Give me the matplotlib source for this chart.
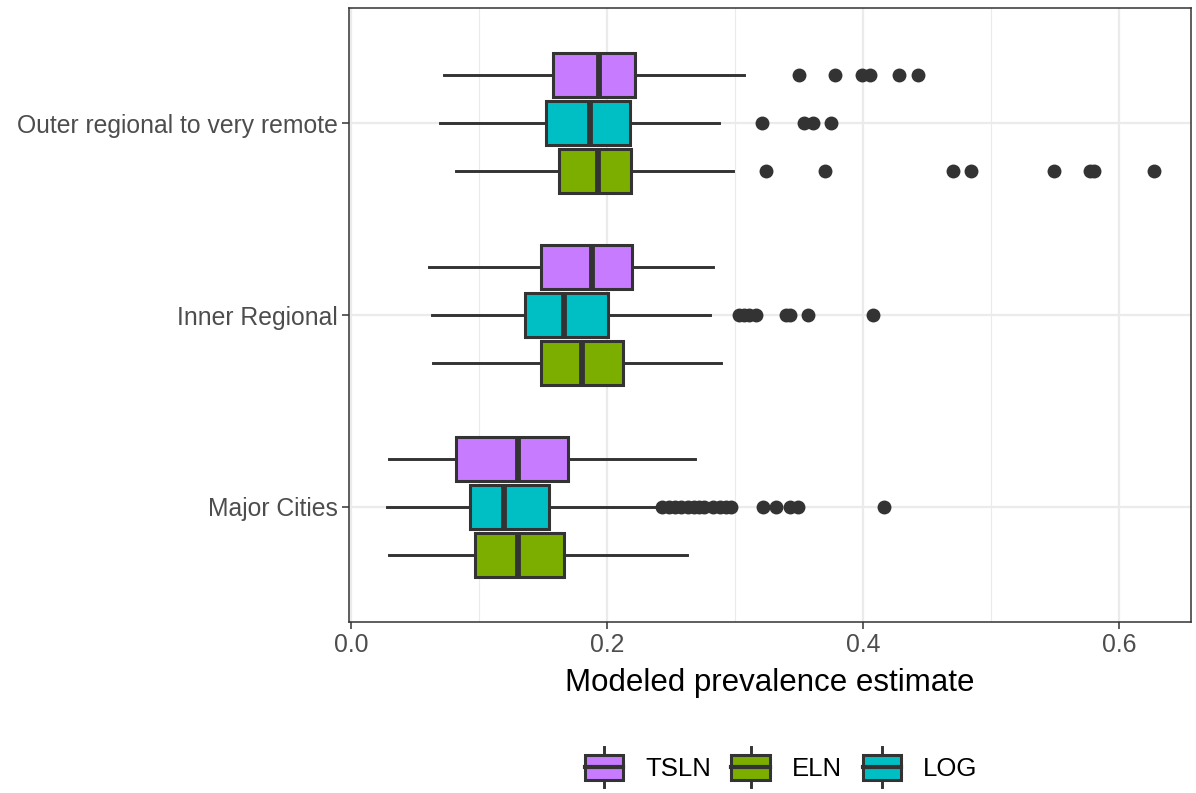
import numpy as np
import matplotlib
matplotlib.use("Agg")
import matplotlib.pyplot as plt
from matplotlib.patches import Rectangle
from matplotlib.lines import Line2D
from matplotlib.legend_handler import HandlerBase

plt.rcParams['font.family'] = ['Liberation Sans', 'DejaVu Sans']

categories = ['Major Cities', 'Inner Regional', 'Outer regional to very remote']
methods = ['TSLN', 'ELN', 'LOG']
colors = {'TSLN': '#C77CFF', 'ELN': '#7CAE00', 'LOG': '#00BFC4'}

# box stats per category (whislo, q1, med, q3, whishi)
tsln_stats = [(0.030, 0.082, 0.130, 0.1695, 0.269),
              (0.061, 0.148, 0.188, 0.2195, 0.283),
              (0.0727, 0.158, 0.194, 0.222, 0.307)]
eln_stats = [(0.030, 0.097, 0.130, 0.166, 0.262),
             (0.064, 0.148, 0.180, 0.2125, 0.289),
             (0.082, 0.1625, 0.193, 0.219, 0.298)]
log_stats = [(0.028, 0.093, 0.1195, 0.1544, 0.241),
             (0.0633, 0.136, 0.166, 0.2008, 0.280),
             (0.0695, 0.152, 0.187, 0.218, 0.287)]

tsln_fliers = [[], [], [0.350, 0.378, 0.399, 0.405, 0.428, 0.443]]
eln_fliers = [[], [], [0.324, 0.370, 0.470, 0.484, 0.549, 0.577, 0.580, 0.627]]
log_fliers = [[0.243, 0.248, 0.253, 0.258, 0.263, 0.268, 0.272, 0.276, 0.283, 0.288,
               0.293, 0.297, 0.322, 0.332, 0.343, 0.349, 0.416],
              [0.303, 0.307, 0.311, 0.316, 0.340, 0.343, 0.357, 0.408],
              [0.321, 0.354, 0.361, 0.375]]

all_stats = {'TSLN': tsln_stats, 'ELN': eln_stats, 'LOG': log_stats}
all_fliers = {'TSLN': tsln_fliers, 'ELN': eln_fliers, 'LOG': log_fliers}
offsets = {'TSLN': 0.25, 'LOG': 0.0, 'ELN': -0.25}

edge = '#333333'

fig = plt.figure(figsize=(11.96, 7.93), dpi=100)
ax = fig.add_axes([349/1196, 1 - 622/793, (1191 - 349)/1196, (622 - 8)/793])

for m in methods:
    stats = []
    for i, s in enumerate(all_stats[m]):
        stats.append(dict(whislo=s[0], q1=s[1], med=s[2], q3=s[3], whishi=s[4],
                          fliers=all_fliers[m][i]))
    pos = [i + 1 + offsets[m] for i in range(len(categories))]
    ax.bxp(stats, positions=pos, widths=0.228, vert=False, patch_artist=True,
           showcaps=False, manage_ticks=False,
           boxprops=dict(facecolor=colors[m], edgecolor=edge, linewidth=2.2),
           medianprops=dict(color=edge, linewidth=4.2, solid_capstyle='butt'),
           whiskerprops=dict(color=edge, linewidth=2.1),
           flierprops=dict(marker='o', markerfacecolor=edge, markeredgecolor=edge,
                           markersize=9.0, linestyle='none'),
           zorder=3)

ax.set_xlim(-0.0016, 0.656)
ax.set_ylim(0.4, 3.6)
ax.set_yticks([1, 2, 3])
ax.set_yticklabels(categories)
ax.set_xticks([0.0, 0.2, 0.4, 0.6])
ax.set_xticklabels(['0.0', '0.2', '0.4', '0.6'])
ax.set_xticks([0.1, 0.3, 0.5], minor=True)
ax.grid(True, which='major', color='#EBEBEB', linewidth=1.6, zorder=0)
ax.grid(True, which='minor', axis='x', color='#EBEBEB', linewidth=0.8, zorder=0)
ax.set_axisbelow(True)
ax.tick_params(axis='both', which='major', labelsize=17.8, labelcolor='#4D4D4D',
               color='#333333', length=5, width=1.1, pad=3)
ax.tick_params(axis='x', which='minor', length=0)
for sp in ax.spines.values():
    sp.set_color('#333333')
    sp.set_linewidth(1.1)
ax.set_xlabel('Modeled prevalence estimate', fontsize=22.5, labelpad=8)


class BoxKey(HandlerBase):
    def create_artists(self, legend, orig_handle, xdescent, ydescent, width, height,
                       fontsize, trans):
        x0, y0 = -xdescent, -ydescent
        rect = Rectangle((x0, y0), width, height, facecolor=orig_handle.get_facecolor(),
                         edgecolor=edge, linewidth=2.2, transform=trans)
        mid = Line2D([x0, x0 + width], [y0 + height / 2] * 2, color=edge,
                     linewidth=3.0, transform=trans)
        w1 = Line2D([x0 + width / 2] * 2, [y0 + height, y0 + height * 1.3], color=edge,
                    linewidth=2.1, transform=trans)
        w2 = Line2D([x0 + width / 2] * 2, [y0, y0 - height * 0.3], color=edge,
                    linewidth=2.1, transform=trans)
        return [rect, mid, w1, w2]


handles = [Rectangle((0, 0), 1, 1, facecolor=colors[m]) for m in methods]
fig.legend(handles, methods, loc='center', bbox_to_anchor=(781/1196, 1 - 768/793),
           ncol=3, frameon=False, fontsize=18.5, handler_map={Rectangle: BoxKey()},
           handlelength=1.5, handleheight=1.12, handletextpad=0.85, columnspacing=0.8)

fig.savefig('out.png', dpi=100)
